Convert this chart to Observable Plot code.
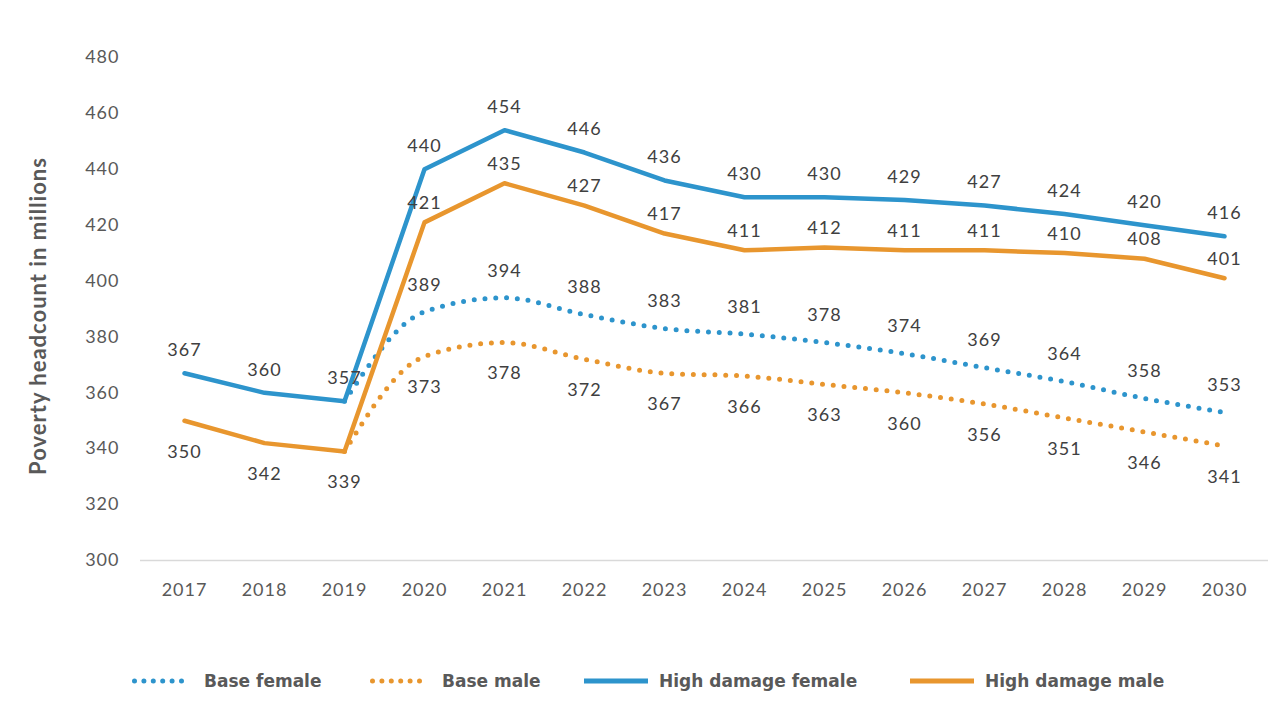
<!DOCTYPE html>
<html>
<head>
<meta charset="utf-8">
<script src="https://cdn.jsdelivr.net/npm/d3@7"></script>
<script src="https://cdn.jsdelivr.net/npm/@observablehq/plot@0.6"></script>
<style>
  html, body { margin: 0; padding: 0; background: #ffffff; }
  #chart { position: relative; width: 1280px; height: 722px; overflow: hidden; }
  #legend { position: absolute; left: 0; top: 640px; width: 1280px; height: 82px; }
</style>
</head>
<body>
<div id="chart"></div>
<script>
// ---- data ----
const years = [2017, 2018, 2019, 2020, 2021, 2022, 2023, 2024, 2025, 2026, 2027, 2028, 2029, 2030];
const highDamageFemale = [367, 360, 357, 440, 454, 446, 436, 430, 430, 429, 427, 424, 420, 416];
const highDamageMale   = [350, 342, 339, 421, 435, 427, 417, 411, 412, 411, 411, 410, 408, 401];
const baseFemale = [null, null, 357, 389, 394, 388, 383, 381, 378, 374, 369, 364, 358, 353];
const baseMale   = [null, null, 339, 373, 378, 372, 367, 366, 363, 360, 356, 351, 346, 341];
const seriesNames = ["Base female", "Base male", "High damage female", "High damage male"];
const seriesColors = ["#2D94CC", "#E8962E", "#2D94CC", "#E8962E"];
const yTicks = [300, 320, 340, 360, 380, 400, 420, 440, 460, 480];
const yTitle = "Poverty headcount in millions";

// ---- tables ----
function rows(values, series) {
  return years.map((year, i) => ({year, value: values[i], series}))
              .filter(d => d.value != null);
}
const baseRows = [...rows(baseFemale, "Base female"), ...rows(baseMale, "Base male")];
const hdRows = [...rows(highDamageFemale, "High damage female"), ...rows(highDamageMale, "High damage male")];

const labelFill = "#404040";
const firstBaseYear = years[baseFemale.findIndex(v => v != null)];

const plot = Plot.plot({
  width: 1280,
  height: 640,
  marginLeft: 140,
  marginRight: 12,
  marginTop: 57,
  marginBottom: 80,
  style: {fontFamily: "Lato, 'Open Sans', sans-serif", fontSize: "18px", color: "#595959", background: "#ffffff", letterSpacing: "1px"},
  x: {type: "point", domain: years, padding: 0.5, tickSize: 0, tickPadding: 23, tickFormat: d => String(d), label: null},
  y: {domain: [300, 480], ticks: yTicks, tickSize: 0, tickPadding: 21, tickFormat: d => String(d), label: null},
  color: {domain: seriesNames, range: seriesColors},
  marks: [
    Plot.ruleY([300], {stroke: "#d9d9d9", strokeWidth: 1.5}),
    Plot.line(baseRows, {x: "year", y: "value", z: "series", stroke: "series", strokeWidth: 5,
      strokeDasharray: "0 10.8", strokeLinecap: "round", curve: "monotone-x"}),
    Plot.line(hdRows, {x: "year", y: "value", z: "series", stroke: "series", strokeWidth: 4.5,
      strokeLinejoin: "round", strokeLinecap: "round", curve: "linear"}),
    // labels
    Plot.text(hdRows.filter(d => d.series === "High damage female"),
      {x: "year", y: "value", text: d => String(d.value), dy: -23, fill: labelFill}),
    Plot.text(hdRows.filter(d => d.series === "High damage male" && d.year > firstBaseYear),
      {x: "year", y: "value", text: d => String(d.value), dy: -19, fill: labelFill}),
    Plot.text(hdRows.filter(d => d.series === "High damage male" && d.year <= firstBaseYear),
      {x: "year", y: "value", text: d => String(d.value), dy: 31, fill: labelFill}),
    Plot.text(baseRows.filter(d => d.series === "Base female" && d.year > firstBaseYear),
      {x: "year", y: "value", text: d => String(d.value), dy: -27, fill: labelFill}),
    Plot.text(baseRows.filter(d => d.series === "Base male" && d.year > firstBaseYear),
      {x: "year", y: "value", text: d => String(d.value), dy: 31, fill: labelFill}),
    // y title
    Plot.text([yTitle], {frameAnchor: "left", textAnchor: "middle", rotate: -90, dx: -102, dy: 7, text: d => d,
      fontWeight: "bold", fontSize: 22, fill: "#595959", fontFamily: "Lato, sans-serif"})
  ]
});

const chart = document.getElementById("chart");
chart.appendChild(plot);

// ---- legend (below the SVG) ----
const legendItems = [
  {name: seriesNames[0], color: seriesColors[0], dotted: true,  x: 132},
  {name: seriesNames[1], color: seriesColors[1], dotted: true,  x: 370},
  {name: seriesNames[2], color: seriesColors[2], dotted: false, x: 584},
  {name: seriesNames[3], color: seriesColors[3], dotted: false, x: 910}
];
const lg = d3.select(chart).append("svg")
  .attr("id", "legend").attr("width", 1280).attr("height", 82);
const cy = 41;
for (const it of legendItems) {
  const g = lg.append("g");
  if (it.dotted) {
    g.append("line").attr("x1", it.x + 2.5).attr("x2", it.x + 58).attr("y1", cy).attr("y2", cy)
      .attr("stroke", it.color).attr("stroke-width", 5).attr("stroke-linecap", "round")
      .attr("stroke-dasharray", "0 9.4");
    g.append("text").attr("x", it.x + 72).attr("y", cy).attr("dy", "0.36em")
      .attr("fill", "#595959").attr("font-family", "'DejaVu Sans', sans-serif")
      .attr("font-weight", "bold").attr("font-size", 17).text(it.name);
  } else {
    g.append("line").attr("x1", it.x).attr("x2", it.x + 64).attr("y1", cy).attr("y2", cy)
      .attr("stroke", it.color).attr("stroke-width", 5);
    g.append("text").attr("x", it.x + 75).attr("y", cy).attr("dy", "0.36em")
      .attr("fill", "#595959").attr("font-family", "'DejaVu Sans', sans-serif")
      .attr("font-weight", "bold").attr("font-size", 17).text(it.name);
  }
}
</script>
</body>
</html>
